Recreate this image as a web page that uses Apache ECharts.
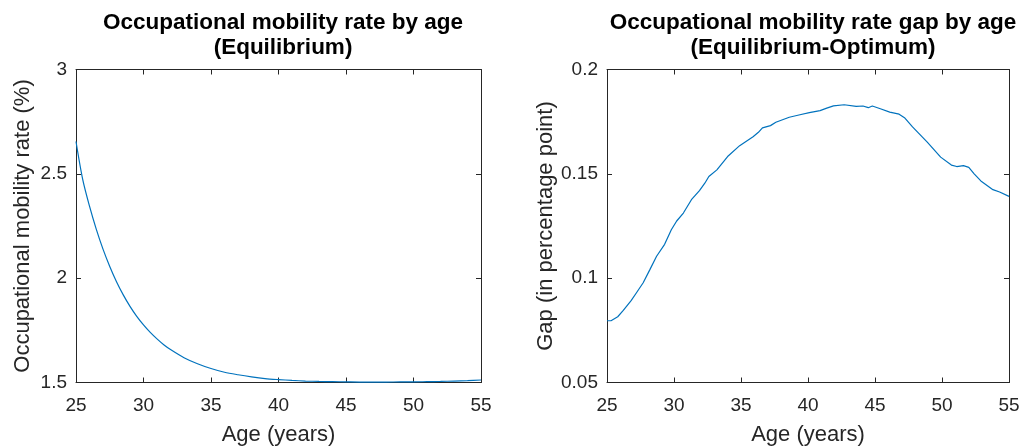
<!DOCTYPE html>
<html>
<head>
<meta charset="utf-8">
<script src="https://cdn.jsdelivr.net/npm/echarts@6/dist/echarts.min.js"></script>
<style>
html,body{margin:0;padding:0;background:#fff;}
#chart{width:1027px;height:447px;}
</style>
</head>
<body>
<div id="chart"></div>
<script>
// ---- Data ----
var leftAges = [25,25.5,26,26.5,27,27.5,28,28.5,29,29.5,30,30.5,31,31.5,32,33,34,35,36,37,38,39,40,41,42,43,44,45,46,47,48,49,50,51,52,53,54,55];
var leftRate = [2.655,2.472,2.345,2.235,2.139,2.056,1.983,1.92,1.865,1.817,1.776,1.74,1.709,1.681,1.658,1.619,1.59,1.567,1.549,1.537,1.527,1.519,1.514,1.510,1.507,1.505,1.504,1.503,1.502,1.502,1.502,1.503,1.503,1.504,1.505,1.507,1.509,1.512];

var rightAges = [25.0,25.3,25.8,26.2,26.8,27.2,27.7,28.2,28.7,29.3,29.8,30.2,30.7,31.3,31.9,32.3,32.6,33.2,34.0,34.9,35.9,36.3,36.6,37.2,37.6,38.6,39.4,40.1,40.9,41.4,41.9,42.7,43.6,44.1,44.5,44.8,45.4,46.1,46.8,47.2,47.8,48.9,49.9,50.7,51.1,51.6,52.0,52.4,52.9,53.8,54.3,55.0];
var rightGap = [0.0796,0.0796,0.0815,0.0844,0.0892,0.0930,0.0978,0.1041,0.1105,0.1162,0.1232,0.1274,0.1312,0.1376,0.1420,0.1455,0.1487,0.1519,0.1583,0.1635,0.1678,0.1699,0.1720,0.1731,0.1747,0.1771,0.1783,0.1793,0.1803,0.1815,0.1826,0.1831,0.1823,0.1825,0.1817,0.1825,0.1812,0.1796,0.1786,0.1769,0.1725,0.1652,0.1580,0.1542,0.1535,0.1539,0.1531,0.1500,0.1466,0.1424,0.1413,0.1392];

var xTicks = {min:25, max:55, interval:5};
var leftY = {min:1.5, max:3, interval:0.5};
var rightY = {min:0.05, max:0.2, interval:0.05};

var titles = ['Occupational mobility rate by age\n(Equilibrium)', 'Occupational mobility rate gap by age\n(Equilibrium-Optimum)'];
var xName = 'Age (years)';
var yNames = ['Occupational mobility rate (%)', 'Gap (in percentage point)'];

// ---- Styling ----
var FONT = 'Liberation Sans, Arial, Helvetica, sans-serif';
var AX = '#262626';
var LINE = '#0072BD';

function pairs(xs, ys){ return xs.map(function(x,i){return [x, ys[i]];}); }

function xAxisDef(grid, main){
  return {
    type:'value', gridIndex:grid, min:xTicks.min, max:xTicks.max, interval:xTicks.interval,
    position: main ? 'bottom' : 'top',
    name: main ? xName : '', nameLocation:'middle', nameGap:41,
    nameTextStyle:{fontFamily:FONT, fontSize:22, color:AX},
    axisLine:{show:true, onZero:false, lineStyle:{color:AX, width:1}},
    axisTick:{show:true, inside:true, length:5, lineStyle:{color:AX, width:1}},
    axisLabel:{show:main, fontFamily:FONT, fontSize:19, color:AX, margin:14},
    splitLine:{show:false}
  };
}
function yAxisDef(grid, main, rng, name, gap){
  return {
    type:'value', gridIndex:grid, min:rng.min, max:rng.max, interval:rng.interval,
    position: main ? 'left' : 'right',
    name: main ? name : '', nameLocation:'middle', nameGap:gap, nameRotate:90,
    nameTextStyle:{fontFamily:FONT, fontSize:22, color:AX},
    axisLine:{show:true, onZero:false, lineStyle:{color:AX, width:1}},
    axisTick:{show:true, inside:true, length:5, lineStyle:{color:AX, width:1}},
    axisLabel:{show:main, fontFamily:FONT, fontSize:19, color:AX, margin:9},
    splitLine:{show:false}
  };
}

var chart = echarts.init(document.getElementById('chart'), null, {renderer:'canvas'});
chart.setOption({
  backgroundColor:'#fff',
  animation:false,
  title:[
    {text:titles[0], left:278, top:5, textAlign:'center',
     textStyle:{fontFamily:FONT, fontSize:22.5, fontWeight:'bold', color:'#000', lineHeight:25}},
    {text:titles[1], left:808, top:5, textAlign:'center',
     textStyle:{fontFamily:FONT, fontSize:22.5, fontWeight:'bold', color:'#000', lineHeight:25}}
  ],
  grid:[
    {left:76, top:69.5, width:405, height:313, outerBoundsMode:'none', containLabel:false},
    {left:607, top:69.5, width:402, height:313, outerBoundsMode:'none', containLabel:false}
  ],
  xAxis:[xAxisDef(0,true), xAxisDef(0,false), xAxisDef(1,true), xAxisDef(1,false)],
  yAxis:[yAxisDef(0,true,leftY,yNames[0],42), yAxisDef(0,false,leftY,'',0),
         yAxisDef(1,true,rightY,yNames[1],50), yAxisDef(1,false,rightY,'',0)],
  series:[
    {type:'line', xAxisIndex:0, yAxisIndex:0, data:pairs(leftAges,leftRate), showSymbol:false, smooth:0.3,
     lineStyle:{color:LINE, width:1.2}, itemStyle:{color:LINE}},
    {type:'line', xAxisIndex:2, yAxisIndex:2, data:pairs(rightAges,rightGap), showSymbol:false,
     lineStyle:{color:LINE, width:1.2}, itemStyle:{color:LINE}}
  ]
});
</script>
</body>
</html>
